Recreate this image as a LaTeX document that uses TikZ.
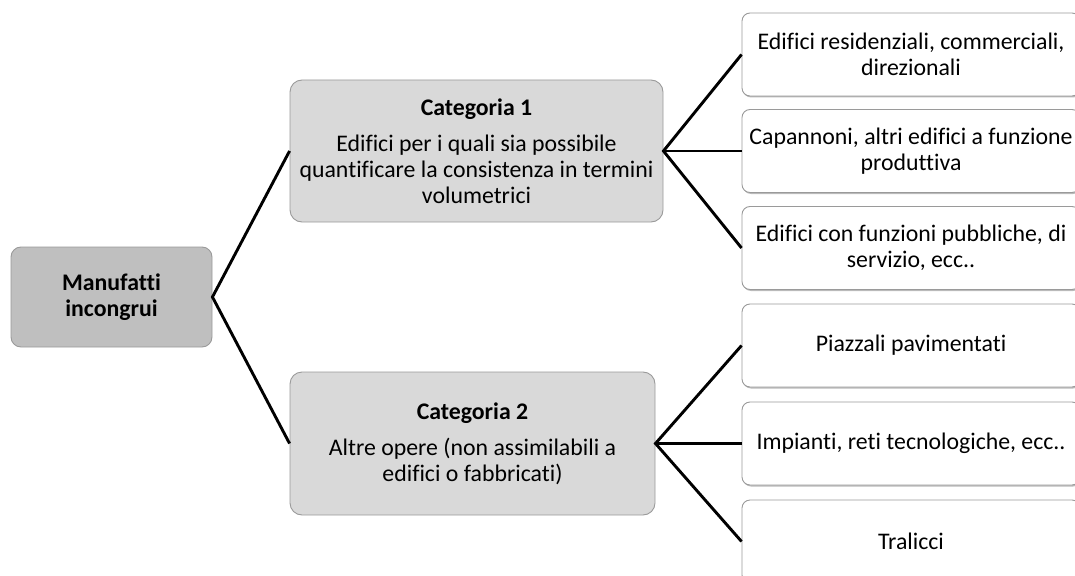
\documentclass[tikz,border=0pt]{standalone}
\usepackage{fontspec}
\setmainfont{Carlito}[Ligatures={NoCommon}]
\usetikzlibrary{shadows}
\definecolor{rootfill}{HTML}{BFBFBF}
\definecolor{catfill}{HTML}{D9D9D9}
\definecolor{boxline}{HTML}{9A9A9A}
\begin{document}
\begin{tikzpicture}[x=1pt,y=-1pt,
  font=\fontsize{23.8}{26}\selectfont,
  base/.style={draw=boxline, line width=0.9pt, align=center, inner sep=0pt},
  rootbox/.style={base, fill=rootfill, rounded corners=10pt, minimum width=201pt, minimum height=100pt},
  catbox/.style={base, fill=catfill, rounded corners=12pt, minimum height=142pt},
  leafbox/.style={base, fill=white, rounded corners=8pt, minimum width=338pt, minimum height=83pt,
    drop shadow={shadow xshift=1pt, shadow yshift=-1.5pt, opacity=0.45, fill=black!60}},
  conn/.style={line width=2.9pt, black}
]
\useasboundingbox (0,0) rectangle (1075,575);

\node[rootbox] (root) at (111.5,297) {\textbf{Manufatti}\\\textbf{incongrui}};

\node[catbox, minimum width=373pt] (c1) at (476.5,151)
  {\textbf{Categoria 1}\\[10pt]Edifici per i quali sia possibile\\quantificare la consistenza in termini\\volumetrici};
\node[catbox, minimum width=365pt, minimum height=143pt] (c2) at (472.5,443.5)
  {\textbf{Categoria 2}\\[10pt]Altre opere (non assimilabili a\\edifici o fabbricati)};

\node[leafbox] (l1) at (911,54.5) {Edifici residenziali, commerciali,\\direzionali};
\node[leafbox] (l2) at (911,151) {Capannoni, altri edifici a funzione\\produttiva};
\node[leafbox] (l3) at (911,248) {Edifici con funzioni pubbliche, di\\servizio, ecc..};
\node[leafbox] (l4) at (911,345.5) {Piazzali pavimentati};
\node[leafbox] (l5) at (911,443.5) {Impianti, reti tecnologiche, ecc..};
\node[leafbox] (l6) at (911,541.5) {Tralicci};

\draw[conn] (c1.west) -- (root.east) -- (c2.west);
\draw[conn] (l1.west) -- (c1.east) -- (l3.west);
\draw[conn] (c1.east) -- (l2.west);
\draw[conn] (l4.west) -- (c2.east) -- (l6.west);
\draw[conn] (c2.east) -- (l5.west);
\end{tikzpicture}
\end{document}
